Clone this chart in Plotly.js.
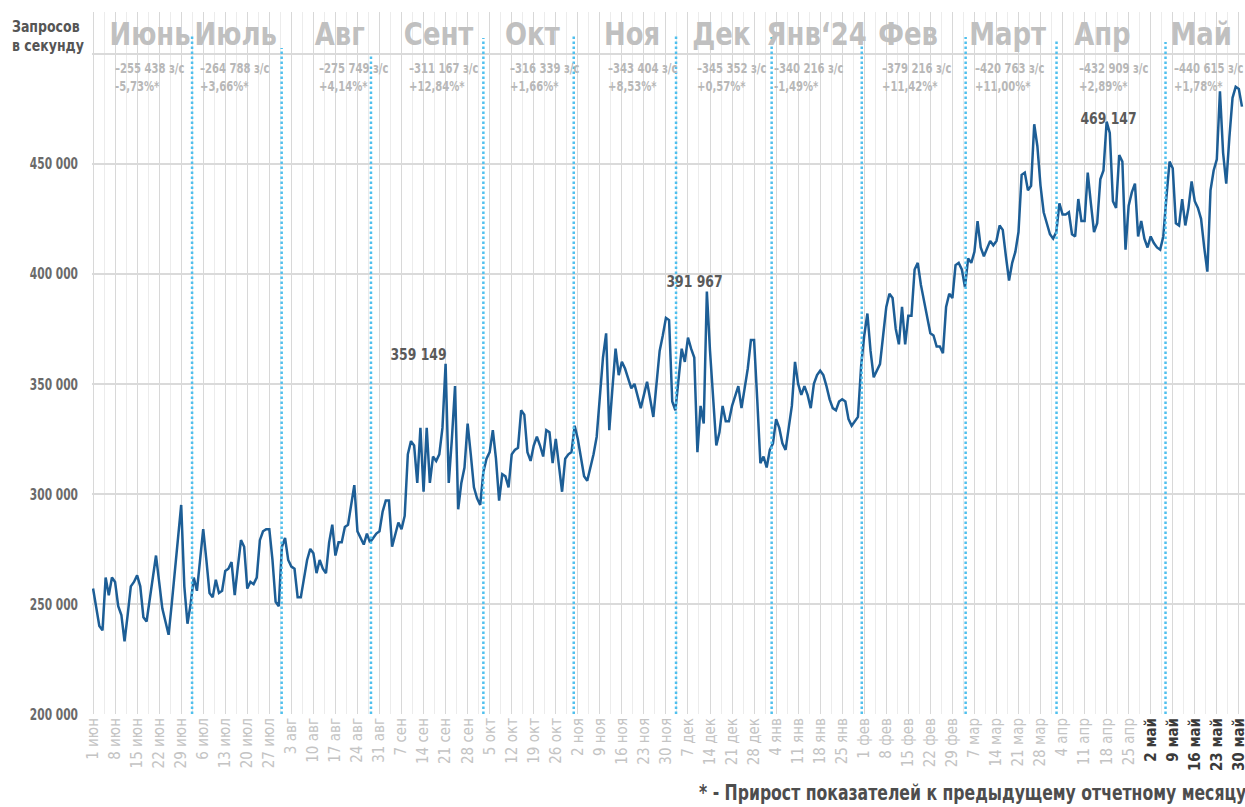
<!DOCTYPE html>
<html><head><meta charset="utf-8">
<script src="https://cdn.plot.ly/plotly-3.0.1.min.js"></script>
<style>html,body{margin:0;padding:0;background:#fff}#chart{width:1245px;height:807px}</style>
</head><body><div id="chart"></div>
<script>
// ---- DATA (requests per second, daily) ----
const jun = [257000,248000,240000,238000,262000,254000,262000,260000,249000,245000,233000,245000,258000,260000,263000,258000,244000,242000,252000,262000,272000,260000,248000,242000,236000,250000,266000,282000,295000,258000];
const jul = [241000,250000,262000,256000,270000,284000,270000,255000,253000,261000,255000,256000,265000,266000,269000,254000,267000,279000,276000,257000,260000,259000,262000,279000,283000,284000,284000,270000,251000,249000,276000];
const aug = [280000,270000,267000,266000,253000,253000,262000,270000,275000,273000,264000,270000,266000,264000,278000,286000,272000,278000,278000,285000,286000,295000,304000,283000,280000,277000,282000,278000,280000,282000,283000];
const sep = [292000,297000,297000,276000,282000,287000,284000,290000,318000,324000,322000,305000,330000,301000,330000,305000,317000,315000,318000,330000,359149,305000,325000,349000,293000,305000,312000,332000,318000,303000];
const oct = [298000,295000,310000,316000,319000,329000,316000,297000,309000,308000,303000,318000,320000,321000,338000,336000,319000,315000,322000,326000,322000,317000,329000,328000,314000,325000,313000,301000,316000,318000,319000];
const nov = [331000,325000,316000,308000,306000,312000,318000,326000,345000,362000,373000,329000,348000,366000,354000,360000,357000,352000,348000,350000,344000,339000,345000,351000,343000,335000,350000,365000,372000,380000];
const dec = [379000,342000,338000,352000,366000,360000,371000,366000,362000,319000,340000,332000,391967,365000,345000,322000,328000,340000,333000,333000,340000,345000,349000,339000,348000,357000,370000,370000,343000,314000,317000];
const jan = [312000,320000,323000,334000,330000,323000,320000,330000,340000,360000,350000,345000,349000,345000,339000,350000,354000,356000,354000,349000,343000,339000,338000,342000,343000,342000,334000,331000,333000,335000,358000];
const feb = [372000,382000,365000,353000,356000,359000,372000,385000,391000,389000,375000,368000,385000,368000,381000,381000,402000,405000,395000,388000,380000,373000,372000,367000,367000,364000,385000,391000,389000];
const mar = [404000,405000,402000,394000,407000,405000,410000,424000,412000,408000,412000,415000,413000,415000,422000,420000,408000,397000,405000,410000,419000,445000,446000,438000,440000,468000,458000,440000,428000,423000,418000];
const apr = [416000,419000,432000,427000,427000,428000,418000,417000,434000,424000,424000,446000,432000,419000,423000,443000,447000,469147,464000,433000,430000,454000,451000,411000,431000,437000,441000,417000,424000,416000];
const may = [412000,417000,414000,412000,411000,417000,435000,451000,448000,423000,422000,434000,422000,430000,442000,433000,430000,425000,412000,401000,438000,447000,452000,483000,455000,441000,462000,480000,485000,484000,476000];

const tickLabels = ['1 июн','8 июн','15 июн','22 июн','29 июн','6 июл','13 июл','20 июл','27 июл','3 авг','10 авг','17 авг','24 авг','31 авг','7 сен','14 сен','21 сен','28 сен','5 окт','12 окт','19 окт','26 окт','2 ноя','9 ноя','16 ноя','23 ноя','30 ноя','7 дек','14 дек','21 дек','28 дек','4 янв','11 янв','18 янв','25 янв','1 фев','8 фев','15 фев','22 фев','29 фев','7 мар','14 мар','21 мар','28 мар','4 апр','11 апр','18 апр','25 апр','2 май','9 май','16 май','23 май','30 май'];
const boldTicks = ['2 май','9 май','16 май','23 май','30 май'];

const monthNames = ['Июнь','Июль','Авг','Сент','Окт','Ноя','Дек','Янв‘24','Фев','Март','Апр','Май'];
const monthAvg = ['–255 438 з/с','–264 788 з/с','–275 749 з/с','–311 167 з/с','–316 339 з/с','–343 404 з/с','–345 352 з/с','–340 216 з/с','–379 216 з/с','–420 763 з/с','–432 909 з/с','–440 615 з/с'];
const monthGrowth = ['-5,73%*','+3,66%*','+4,14%*','+12,84%*','+1,66%*','+8,53%*','+0,57%*','-1,49%*','+11,42%*','+11,00%*','+2,89%*','+1,78%*'];

const peakLabels = ['359 149','391 967','469 147'];
const peakValues = [359149, 391967, 469147];

const yTickVals = [200000,250000,300000,350000,400000,450000,500000];
const yTickText = ['200 000','250 000','300 000','350 000','400 000','450 000',''];

// ---- STYLE / LAYOUT POSITIONS ----
const W = 1245, H = 807, ML = 92, MR = 0, MT = 12, MB = 93;
const PW = W - ML - MR, PH = H - MT - MB;
const px = x => (x - ML) / PW;
const py = y => (H - MB - y) / PH;
const FONT = '"DejaVu Sans Condensed","Liberation Sans Narrow",sans-serif';

const values = [].concat(jun, jul, aug, sep, oct, nov, dec, jan, feb, mar, apr, may);
const dayStr = i => { const d = new Date(Date.UTC(2023, 5, 1 + i)); return d.toISOString().slice(0, 10); };
const dates = values.map((v, i) => dayStr(i));
const tickVals = tickLabels.map((t, i) => dayStr(i * 7));
const tickText = tickLabels.map(t => boldTicks.includes(t) ? '<b><span style="color:#3a3a3a">' + t + '</span></b>' : t);

const sepDates = ['2023-07-02 11:00','2023-07-30 22:00','2023-08-28 07:00','2023-10-03 00:00','2023-10-31 17:00','2023-12-03 05:00','2024-01-02 14:00','2024-01-31 05:00','2024-03-04 05:00','2024-04-02 02:00','2024-05-06 17:00'];
const sepTops = [35,48,55,38,35,35,37,40,37,39,42];

const monthCenters = [150,235,340,438.5,532,632,721.5,816,907.5,1008,1102,1201];
const subLeft = [113,198,317,407,508,606,695,772,880,973,1077,1172];

const shapes = sepDates.map((d, i) => ({
  type: 'line', xref: 'x', yref: 'paper', x0: d, x1: d, y0: 0, y1: py(sepTops[i]),
  line: {color: '#4fc0ee', width: 2.5, dash: '2.5px,2.5px'}, layer: 'above'
}));

const annotations = [];
monthNames.forEach((m, i) => {
  annotations.push({xref: 'paper', yref: 'paper', x: px(monthCenters[i]), y: py(34), xanchor: 'center', yanchor: 'middle',
    text: '<b>' + m + '</b>', showarrow: false, font: {family: FONT, size: 32, color: '#c0c0c0'}});
  annotations.push({xref: 'paper', yref: 'paper', x: px(subLeft[i]), y: py(58), xanchor: 'left', yanchor: 'top', align: 'left',
    text: '<b>' + monthAvg[i] + '<br>' + monthGrowth[i] + '</b>', showarrow: false, font: {family: FONT, size: 14, color: '#b8b8b8'}});
});
const peakIdx = peakValues.map(v => values.indexOf(v));
const peakShift = [[-27, 9], [-12, 10], [2, 3]];
peakIdx.forEach((k, i) => {
  annotations.push({xref: 'x', yref: 'y', x: dates[k], y: values[k], xanchor: 'center', yanchor: 'middle',
    xshift: peakShift[i][0], yshift: peakShift[i][1], text: '<b>' + peakLabels[i] + '</b>', showarrow: false,
    font: {family: FONT, size: 15, color: '#5a5a5a'}});
});
annotations.push({xref: 'paper', yref: 'paper', x: px(10), y: py(16), xanchor: 'left', yanchor: 'top', align: 'left',
  text: '<b>Запросов<br>в секунду</b>', showarrow: false, font: {family: FONT, size: 15, color: '#555555'}});
annotations.push({xref: 'paper', yref: 'paper', x: px(697), y: py(793), xanchor: 'left', yanchor: 'middle', align: 'left',
  text: '<b>* - Прирост показателей к предыдущему отчетному месяцу</b>', showarrow: false, font: {family: FONT, size: 21, color: '#4d4d4d'}});

const trace = {x: dates, y: values, type: 'scatter', mode: 'lines', line: {color: '#1d5e96', width: 2.5}, hoverinfo: 'x+y'};

const layout = {
  width: W, height: H, margin: {l: ML, r: MR, t: MT, b: MB, pad: 0},
  paper_bgcolor: '#ffffff', plot_bgcolor: '#ffffff', showlegend: false,
  font: {family: FONT},
  xaxis: {type: 'date', range: ['2023-05-31 16:00', '2024-05-31 23:00'], tickmode: 'array', tickvals: tickVals, ticktext: tickText,
    tickangle: -90, tickfont: {family: FONT, size: 15, color: '#c4c4c4'}, showgrid: true, gridcolor: '#d8d8d8', gridwidth: 1,
    zeroline: false, showline: false, ticks: '', ticklabeloverflow: 'allow',
    minor: {dtick: 3.5 * 86400000, tick0: '2023-06-01', showgrid: true, gridcolor: '#ececec', gridwidth: 1, ticks: ''}},
  yaxis: {range: [200000, 519000], tickmode: 'array', tickvals: yTickVals, ticktext: yTickText.map(t => t ? '<b>' + t + '</b>' : t),
    tickfont: {family: FONT, size: 16, color: '#6a6a6a'}, showgrid: true, gridcolor: '#dadada', gridwidth: 2,
    zeroline: false, showline: false, ticks: '', ticklabelstandoff: 13},
  shapes: shapes, annotations: annotations
};

// horizontal condensing of text to imitate the narrow typeface of the original
function condense(el, s, anchor) {
  const b = el.getBBox();
  const cx = anchor === 'left' ? b.x : anchor === 'right' ? b.x + b.width : b.x + b.width / 2;
  const prev = el.getAttribute('transform') || '';
  el.setAttribute('transform', prev + ' translate(' + cx + ',0) scale(' + s + ',1) translate(' + (-cx) + ',0)');
}
Plotly.newPlot('chart', [trace], layout, {staticPlot: true, displayModeBar: false}).then(gd => {
  gd.querySelectorAll('text.annotation-text').forEach(el => {
    const t = el.textContent;
    if (monthNames.includes(t)) condense(el, 0.9, 'center');
    else if (t.startsWith('–')) condense(el, 0.8, 'left');
    else if (t.startsWith('*')) condense(el, 0.83, 'left');
    else if (peakLabels.includes(t)) condense(el, 0.92, 'center');
    else if (t.startsWith('Запросов')) condense(el, 0.93, 'left');
  });
  gd.querySelectorAll('g.ytick text').forEach(el => condense(el, 0.74, 'right'));
});
</script>
</body></html>
